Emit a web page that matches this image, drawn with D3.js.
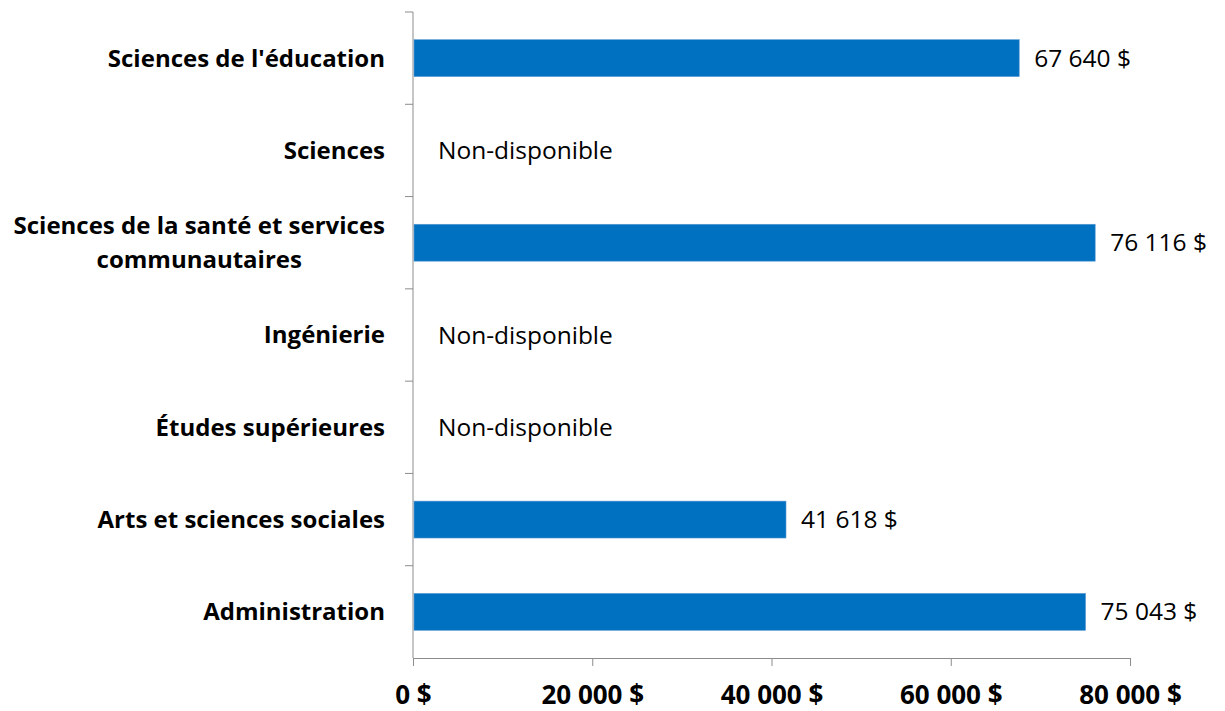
<!DOCTYPE html>
<meta charset="utf-8">
<style>
	body { margin: 0; background: #fff; }
	svg { display: block; }
	svg text { font-family: "Open Sans", "Liberation Sans", sans-serif; }
	.cat { font-weight: bold; font-size: 24px; fill: #000; }
	.val { font-size: 24.5px; fill: #000; }
	.tick text { font-weight: bold; font-size: 26px; fill: #000; }
	.axis path, .axis line { stroke: #8c8c8c; }
</style>
<body>
<script src="https://d3js.org/d3.v7.min.js"></script>
<script>

// categories top to bottom
var categories = [
	["Sciences de l'éducation"],
	["Sciences"],
	["Sciences de la santé et services", "communautaires"],
	["Ingénierie"],
	["Études supérieures"],
	["Arts et sciences sociales"],
	["Administration"]
];
// null = non-disponible
var values = [67640, null, 76116, null, null, 41618, 75043];
var xTicks = [0, 20000, 40000, 60000, 80000];

var width = 1225, height = 711;
var mLeft = 413, mRight = 1130, mTop = 12, mBottom = 658;

var svg = d3.select("body").append("svg")
	.attr("width", width)
	.attr("height", height);

var x = d3.scaleLinear().domain([0, 80000]).range([mLeft, mRight]);
var y = d3.scaleBand().domain(d3.range(categories.length)).range([mTop, mBottom]).paddingInner(0.6).paddingOuter(0.3);

var fmt = function(v) { return d3.format(",")(v).replace(/,/g, " ") + " $"; };

// x axis
var xAxis = svg.append("g")
	.attr("class", "axis")
	.attr("transform", "translate(0," + mBottom + ")")
	.call(d3.axisBottom(x).tickValues(xTicks).tickSize(8).tickSizeOuter(0).tickPadding(20).tickFormat(fmt));
xAxis.attr("font-family", null).attr("font-size", null);

// y axis: ticks between categories
var step = (mBottom - mTop) / categories.length;
var yAxis = svg.append("g").attr("class", "axis");
yAxis.append("line")
	.attr("x1", mLeft).attr("x2", mLeft)
	.attr("y1", mTop).attr("y2", mBottom);
yAxis.selectAll("line.t")
	.data(d3.range(categories.length))
	.enter().append("line")
	.attr("class", "t")
	.attr("x1", mLeft - 8).attr("x2", mLeft)
	.attr("y1", function(d) { return mTop + d * step; })
	.attr("y2", function(d) { return mTop + d * step; });

// bars
svg.selectAll("rect.bar")
	.data(values.map(function(v, i) { return {v: v, i: i}; }).filter(function(d) { return d.v != null; }))
	.enter().append("rect")
	.attr("class", "bar")
	.attr("x", x(0) + 1)
	.attr("y", function(d) { return y(d.i); })
	.attr("width", function(d) { return x(d.v) - x(0) - 1; })
	.attr("height", y.bandwidth())
	.attr("fill", "#0070c0")
	.attr("stroke", "#5b9bd5")
	.attr("stroke-width", 0.6);

// value labels
svg.selectAll("text.val")
	.data(values)
	.enter().append("text")
	.attr("class", "val")
	.attr("x", function(d) { return d == null ? x(0) + 25 : x(d) + 15; })
	.attr("y", function(d, i) { return y(i) + y.bandwidth() / 2; })
	.attr("dy", "0.35em")
	.text(function(d) { return d == null ? "Non-disponible" : fmt(d); });

// category labels
var catRight = 385;
svg.selectAll("text.cat")
	.data(categories)
	.enter().append("text")
	.attr("class", "cat")
	.each(function(lines, i) {
		var t = d3.select(this);
		var cy = y(i) + y.bandwidth() / 2;
		if (lines.length === 1) {
			t.attr("x", catRight).attr("y", cy).attr("dy", "0.35em")
				.attr("text-anchor", "end").text(lines[0]);
		} else {
			var lh = 34;
			var first = t.append("tspan").attr("x", catRight).attr("y", cy - lh / 2)
				.attr("dy", "0.35em").attr("text-anchor", "end").text(lines[0]);
			var w = first.node().getComputedTextLength();
			t.append("tspan").attr("x", catRight - w / 2).attr("y", cy + lh / 2)
				.attr("dy", "0.35em").attr("text-anchor", "middle").text(lines[1]);
		}
	});

</script>
</body>
